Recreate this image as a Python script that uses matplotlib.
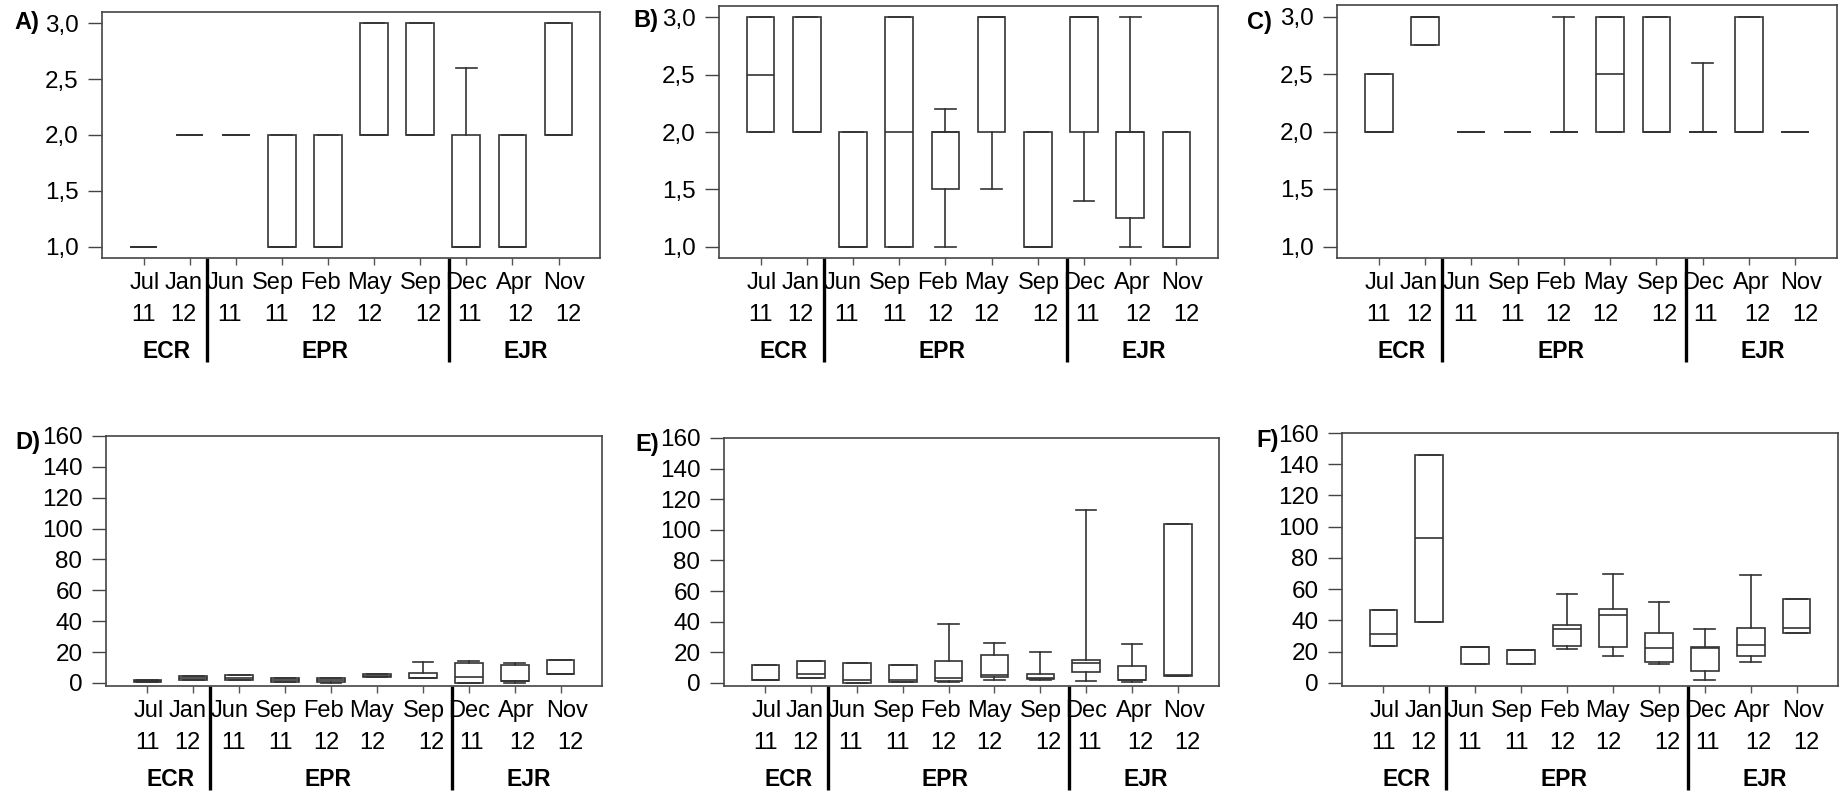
import numpy as np
import matplotlib
matplotlib.use("Agg")
from matplotlib import pyplot as plt
from matplotlib import transforms

month_names = ["Jul", "Jan", "Jun", "Sep", "Feb", "May", "Sep", "Dec", "Apr", "Nov"]
years = ["11", "12", "11", "11", "12", "12", "12", "11", "12", "12"]
groups = ["ECR", "EPR", "EJR"]
group_x = [1.5, 4.93, 9.3]
split_x = [2.37, 7.63]

# box stats per panel: whisker low, q1, median, q3, whisker high
a_lo  = [1, 2, 2, 1, 1, 2, 2, 1, 1, 2]
a_q1  = [1, 2, 2, 1, 1, 2, 2, 1, 1, 2]
a_med = [1, 2, 2, 1, 1, 2, 2, 1, 1, 2]
a_q3  = [1, 2, 2, 2, 2, 3, 3, 2, 2, 3]
a_hi  = [1, 2, 2, 2, 2, 3, 3, 2.6, 2, 3]

b_lo  = [2, 2, 1, 1, 1, 1.5, 1, 1.4, 1, 1]
b_q1  = [2, 2, 1, 1, 1.5, 2, 1, 2, 1.25, 1]
b_med = [2.5, 2, 1, 2, 2, 3, 1, 3, 2, 1]
b_q3  = [3, 3, 2, 3, 2, 3, 2, 3, 2, 2]
b_hi  = [3, 3, 2, 3, 2.2, 3, 2, 3, 3, 2]

c_lo  = [2, 2.75, 2, 2, 2, 2, 2, 2, 2, 2]
c_q1  = [2, 2.75, 2, 2, 2, 2, 2, 2, 2, 2]
c_med = [2, 3, 2, 2, 2, 2.5, 2, 2, 2, 2]
c_q3  = [2.5, 3, 2, 2, 2, 3, 3, 2, 3, 2]
c_hi  = [2.5, 3, 2, 2, 3, 3, 3, 2.6, 3, 2]

d_lo  = [0.7, 1.9, 1.9, 0.9, 0.0, 3.7, 3.0, 0.0, 0.0, 5.8]
d_q1  = [0.7, 1.9, 1.9, 0.9, 0.6, 3.7, 3.0, 0.0, 1.0, 5.8]
d_med = [1.0, 3.2, 3.2, 2.0, 2.0, 4.5, 3.4, 4.1, 1.5, 6.0]
d_q3  = [1.7, 4.3, 5.2, 3.2, 3.0, 5.8, 6.2, 12.9, 11.8, 15.0]
d_hi  = [1.7, 4.3, 5.2, 3.2, 3.0, 5.8, 13.5, 14.0, 12.9, 15.0]

e_lo  = [2.0, 3.3, 0.0, 0.9, 0.9, 2.0, 2.0, 1.3, 0.9, 4.4]
e_q1  = [2.0, 3.3, 0.0, 0.9, 1.3, 3.9, 2.4, 7.4, 1.8, 4.4]
e_med = [2.2, 6.0, 2.0, 1.7, 3.0, 5.0, 3.0, 13.0, 2.0, 5.0]
e_q3  = [12.0, 14.3, 13.0, 12.0, 14.3, 18.3, 5.9, 15.0, 11.2, 104.0]
e_hi  = [12.0, 14.3, 13.0, 12.0, 38.5, 25.9, 20.0, 113.0, 25.5, 104.0]

f_lo  = [23.4, 39.1, 11.9, 11.9, 21.9, 17.4, 11.9, 2.1, 13.6, 31.9]
f_q1  = [23.4, 39.1, 11.9, 11.9, 23.8, 23.0, 13.2, 7.7, 17.4, 31.9]
f_med = [31.0, 92.8, 23.0, 21.0, 34.7, 43.2, 22.1, 22.1, 24.0, 34.9]
f_q3  = [46.6, 146.0, 23.0, 21.0, 37.0, 47.4, 32.1, 22.8, 34.9, 54.0]
f_hi  = [46.6, 146.0, 23.0, 21.0, 56.8, 69.4, 51.5, 34.7, 68.9, 54.0]

low_ticks = [1.0, 1.5, 2.0, 2.5, 3.0]
low_labels = ["1,0", "1,5", "2,0", "2,5", "3,0"]
high_ticks = [0, 20, 40, 60, 80, 100, 120, 140, 160]

# label nudges in pixels (the hand-placed text boxes don't sit exactly on ticks)
month_dx = [1, -6, -10, -9, -8, -5, 1, 0, 2, 6]
year_dx = [0, -6, -6, -5, -5, -5, 8, 3, 8, 10]

W, H = 1842, 794
sans = ["Liberation Sans", "DejaVu Sans"]

fig = plt.figure(figsize=(W / 100, H / 100), dpi=100)

# (letter, label pos px, axes box px [left, top, right, bottom], stats, scale)
panels = [
    ("A)", (14, 23), (102, 12, 600, 258), (a_lo, a_q1, a_med, a_q3, a_hi), "low"),
    ("B)", (633, 20), (719, 6, 1218, 258), (b_lo, b_q1, b_med, b_q3, b_hi), "low"),
    ("C)", (1247, 23), (1337, 5, 1837, 258), (c_lo, c_q1, c_med, c_q3, c_hi), "low"),
    ("D)", (15, 442), (106, 436, 602, 686), (d_lo, d_q1, d_med, d_q3, d_hi), "high"),
    ("E)", (635, 445), (724, 438, 1219, 686), (e_lo, e_q1, e_med, e_q3, e_hi), "high"),
    ("F)", (1256, 441), (1342, 433, 1838, 686), (f_lo, f_q1, f_med, f_q3, f_hi), "high"),
]

edge = "#333333"
pos = np.arange(1, 11)

for letter, (lx, ly), (l, t, r, b), (lo, q1, med, q3, hi), scale in panels:
    ax = fig.add_axes([l / W, 1 - b / H, (r - l) / W, (b - t) / H])
    stats = [dict(whislo=lo[i], q1=q1[i], med=med[i], q3=q3[i], whishi=hi[i])
             for i in range(len(month_names))]
    ax.bxp(stats, positions=pos, widths=0.6, capwidths=0.45, showfliers=False,
           patch_artist=True,
           boxprops=dict(facecolor="white", edgecolor=edge, linewidth=1.2),
           medianprops=dict(color=edge, linewidth=1.2),
           whiskerprops=dict(color=edge, linewidth=1.2),
           capprops=dict(color=edge, linewidth=1.2))
    ax.set_xlim(0.1, 10.9)
    if scale == "low":
        ax.set_ylim(0.9, 3.1)
        ax.set_yticks(low_ticks)
        ax.set_yticklabels(low_labels)
    else:
        ax.set_ylim(-2, 160)
        ax.set_yticks(high_ticks)
        ax.set_yticklabels([str(v) for v in high_ticks])
    ax.set_xticks(pos)
    ax.set_xticklabels([])
    for lab in ax.get_yticklabels():
        lab.set_family(sans)
        lab.set_fontsize(17.5)
    ax.tick_params(axis="x", length=5, width=1, color="#555555")
    ax.tick_params(axis="y", length=10, width=1, color="#444444", pad=7)
    for sp in ax.spines.values():
        sp.set_color("#444444")
        sp.set_linewidth(1.2)

    trans = transforms.blended_transform_factory(ax.transData, ax.transAxes)

    # month / year labels under each box
    for i, (m, y) in enumerate(zip(month_names, years)):
        off_m = transforms.ScaledTranslation(month_dx[i] / 100, -31 / 100,
                                             fig.dpi_scale_trans)
        off_y = transforms.ScaledTranslation(year_dx[i] / 100, -63 / 100,
                                             fig.dpi_scale_trans)
        ax.text(pos[i], 0, m, transform=trans + off_m, ha="center",
                va="baseline", family=sans, fontsize=17)
        ax.text(pos[i], 0, y, transform=trans + off_y, ha="center",
                va="baseline", family=sans, fontsize=17)

    # group separators and group names
    frac = 104 / (b - t)
    for sx in split_x:
        ax.plot([sx, sx], [0, -frac], color="black", lw=2.4, transform=trans,
                clip_on=False, solid_capstyle="butt")
    for gx, g in zip(group_x, groups):
        ax.text(gx, -100 / (b - t), g, transform=trans, ha="center",
                va="baseline", family=sans, fontweight="bold", fontsize=16.5)

    fig.text(lx / W, 1 - ly / H, letter, ha="left", va="center",
             family=sans, fontweight="bold", fontsize=17)

fig.savefig("out.png", dpi=100)
